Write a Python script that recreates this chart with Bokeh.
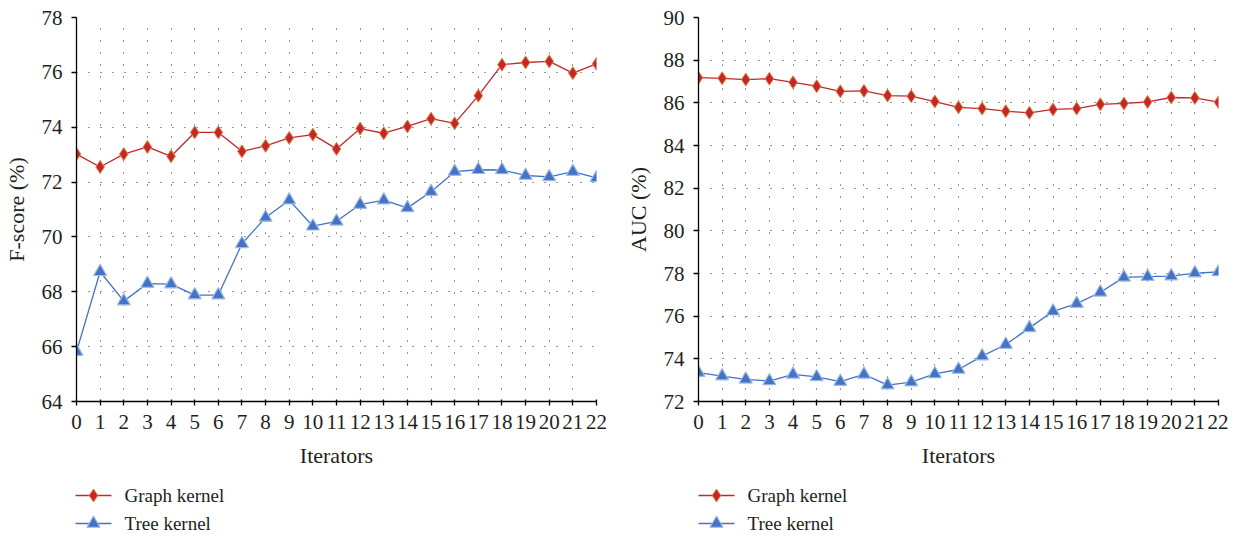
from bokeh.plotting import figure
from bokeh.models import SingleIntervalTicker, Range1d
from bokeh.core.properties import value
from bokeh.layouts import row, column
from bokeh.embed import file_html
from bokeh.resources import INLINE

iterators = list(range(23))
tick_labels = [str(i) for i in iterators]

fscore_graph = [73.02, 72.55, 73.02, 73.28, 72.94, 73.81, 73.81, 73.12, 73.32, 73.61, 73.73, 73.21,
                73.95, 73.78, 74.03, 74.31, 74.14, 75.15, 76.28, 76.36, 76.40, 75.97, 76.31]
fscore_tree = [65.82, 68.73, 67.66, 68.30, 68.28, 67.88, 67.88, 69.75, 70.71, 71.34, 70.39, 70.57,
               71.18, 71.34, 71.06, 71.65, 72.38, 72.45, 72.44, 72.24, 72.19, 72.38, 72.15]
auc_graph = [87.18, 87.15, 87.09, 87.13, 86.96, 86.78, 86.54, 86.56, 86.34, 86.31, 86.06, 85.79,
             85.73, 85.61, 85.53, 85.69, 85.73, 85.93, 85.97, 86.04, 86.25, 86.23, 86.03]
auc_tree = [73.35, 73.19, 73.04, 72.96, 73.27, 73.15, 72.93, 73.27, 72.77, 72.91, 73.29, 73.50,
            74.13, 74.67, 75.45, 76.23, 76.59, 77.12, 77.82, 77.85, 77.88, 78.02, 78.07]

series_names = ["Graph kernel", "Tree kernel"]

FONT = "Liberation Serif"
RED = "#c1272d"
RED_EDGE = "#e8893a"
BLUE = "#4472c4"
BLUE_EDGE = "#9dbbe6"
TXT = "#231f20"

MAIN_H = 475
LEG_H = 537 - MAIN_H

STYLES = [
    dict(color=RED, marker="diamond", edge=RED_EDGE, edge_w=1.0),
    dict(color=BLUE, marker="triangle", edge=BLUE_EDGE, edge_w=1.2),
]


def make_panel(graph, tree, ylo, yhi, ylabel, border_left, frame_w, border_right):
    p = figure(output_backend="svg", toolbar_location=None,
               width=border_left + frame_w + border_right, height=MAIN_H,
               min_border_left=border_left, min_border_right=border_right,
               min_border_top=17, min_border_bottom=MAIN_H - 17 - 384,
               x_range=Range1d(0, 22), y_range=Range1d(ylo, yhi))
    p.outline_line_color = None
    p.background_fill_color = "white"
    p.border_fill_color = "white"

    p.xaxis.ticker = iterators
    p.xaxis.major_label_overrides = {i: tick_labels[i] for i in iterators}
    p.yaxis.ticker = SingleIntervalTicker(interval=2)
    for ax in (p.xaxis[0], p.yaxis[0]):
        ax.axis_line_color = "black"
        ax.axis_line_width = 1.3
        ax.major_tick_line_color = "black"
        ax.major_tick_line_width = 1.3
        ax.minor_tick_line_color = None
        ax.major_label_text_font = FONT
        ax.major_label_text_font_size = "21px"
        ax.major_label_text_color = TXT
        ax.axis_label_text_font = FONT
        ax.axis_label_text_font_size = "22px"
        ax.axis_label_text_font_style = "normal"
        ax.axis_label_text_color = TXT
    p.xaxis.major_tick_in = 2
    p.xaxis.major_tick_out = 4
    p.yaxis.major_tick_in = 0
    p.yaxis.major_tick_out = 5
    p.xaxis.axis_label = "Iterators"
    p.xaxis.major_label_standoff = 9
    p.xaxis.axis_label_standoff = 11
    p.yaxis.axis_label = ylabel
    p.yaxis.major_label_standoff = 9
    p.yaxis.axis_label_standoff = 10

    p.xgrid.ticker = iterators
    p.xgrid.grid_line_color = "#333333"
    p.xgrid.grid_line_dash = "1 11"
    p.xgrid.grid_line_width = 1
    p.ygrid.grid_line_color = "#333333"
    p.ygrid.grid_line_dash = "1 11"
    p.ygrid.grid_line_width = 1

    for ys, st in zip([graph, tree], STYLES):
        p.line(iterators, ys, line_color=st["color"], line_width=1.3)
        p.scatter(iterators, ys, marker=st["marker"], size=13,
                  fill_color=st["color"], line_color=st["edge"], line_width=st["edge_w"])
    return p


def make_legend_strip(border_left, width):
    # Legend strip in pixel units: one sample line + marker + serif label per series
    lf = figure(output_backend="svg", toolbar_location=None,
                width=width, height=LEG_H,
                min_border_left=0, min_border_right=0,
                min_border_top=0, min_border_bottom=0,
                x_range=Range1d(0, width), y_range=Range1d(0, LEG_H),
                x_axis_type=None, y_axis_type=None)
    lf.outline_line_color = None
    lf.grid.visible = False
    lf.border_fill_color = "white"
    row_y = [LEG_H - 20, LEG_H - 48]
    x0, x1 = border_left, border_left + 36
    for name, st, yy in zip(series_names, STYLES, row_y):
        lf.line([x0, x1], [yy, yy], line_color=st["color"], line_width=1.3)
        lf.scatter([(x0 + x1) / 2], [yy], marker=st["marker"], size=13,
                   fill_color=st["color"], line_color=st["edge"], line_width=st["edge_w"])
        lf.text([x1 + 13], [yy], text=[name], text_font=value(FONT),
                text_font_size="19px", text_color=TXT,
                text_baseline="middle", text_align="left")
    return lf


left = make_panel(fscore_graph, fscore_tree, 64, 78, "F-score (%)", 75, 521, 20)
right = make_panel(auc_graph, auc_tree, 72, 90, "AUC (%)", 82, 520, 10)
left_leg = make_legend_strip(75, 616)
right_leg = make_legend_strip(82, 612)

layout = column(row(left, right), row(left_leg, right_leg))
open("out.html", "w").write(file_html(layout, INLINE))
